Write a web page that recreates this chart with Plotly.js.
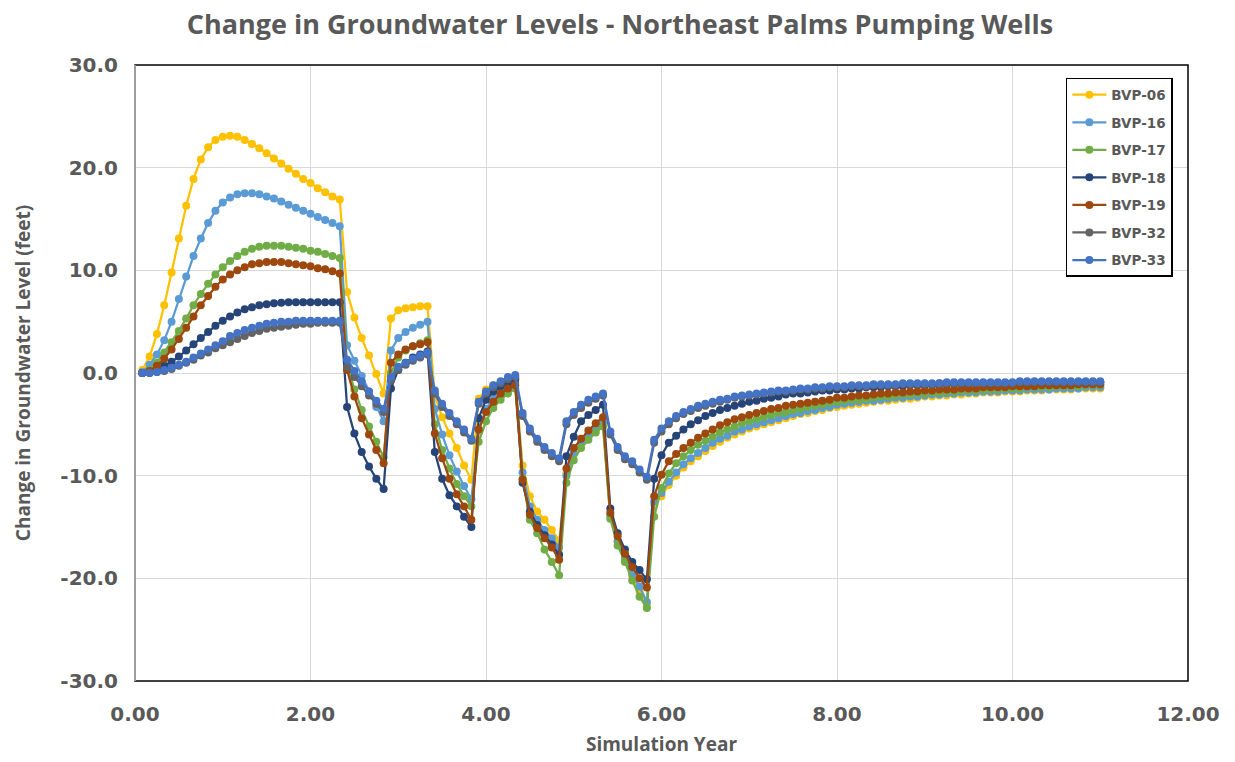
<!DOCTYPE html>
<html>
<head>
<meta charset="utf-8">
<script src="https://cdn.plot.ly/plotly-3.0.1.min.js"></script>
<style>html,body{margin:0;padding:0;background:#fff;}#chart{width:1235px;height:762px;}</style>
</head>
<body>
<div id="chart"></div>
<script>
// Simulation time axis: monthly steps, 1/12 year to 11.0 years
const nSteps = 132;
const simYear = [];
for (let k = 1; k <= nSteps; k++) simYear.push(+(k / 12).toFixed(4));

const seriesNames = ["BVP-06", "BVP-16", "BVP-17", "BVP-18", "BVP-19", "BVP-32", "BVP-33"];
const seriesColors = ["#FFC000", "#5B9BD5", "#70AD47", "#264478", "#9E480E", "#636363", "#4472C4"];

const xTickVals = [0, 2, 4, 6, 8, 10, 12];
const xTickText = ["0.00", "2.00", "4.00", "6.00", "8.00", "10.00", "12.00"];
const yTickVals = [-30, -20, -10, 0, 10, 20, 30];
const yTickText = ["-30.0", "-20.0", "-10.0", "0.0", "10.0", "20.0", "30.0"];

const bvp06 = [
  0.3,1.6,3.8,6.6,9.8,13.1,16.3,18.9,20.8,22.0,22.7,23.0,23.1,23.0,22.7,22.3,21.9,21.4,20.9,20.4,19.9,19.4,18.9,18.5,18.0,17.6,17.2,16.9,
  7.9,5.4,3.4,1.7,-0.1,-2.0,
  5.3,6.1,6.3,6.4,6.5,6.5,
  -2.2,-4.3,-5.9,-7.3,-9.0,-10.4,
  -2.5,-1.6,-1.2,-0.9,-0.7,-0.5,
  -9.0,-12.0,-13.5,-14.3,-15.3,-16.3,
  -9.8,-7.8,-6.8,-6.1,-5.5,-5.0,
  -13.8,-16.4,-18.2,-19.8,-21.3,-22.6,
  -12.8,-12.0,-10.9,-10.0,-9.2,-8.6,-8.1,-7.6,-7.1,-6.7,-6.3,-6.0,-5.7,-5.4,-5.2,-5.0,-4.8,-4.6,-4.4,-4.2,
  -4.0,-3.9,-3.7,-3.6,-3.4,-3.3,-3.2,-3.1,-3.0,-2.9,-2.8,-2.7,-2.7,-2.6,-2.5,-2.5,-2.4,-2.3,-2.3,-2.2,
  -2.2,-2.1,-2.1,-2.0,-2.0,-1.9,-1.9,-1.9,-1.8,-1.8,-1.8,-1.7,-1.7,-1.7,-1.6,-1.6,-1.6,-1.6,-1.5,-1.5,
  -1.5,-1.5
];
const bvp16 = [
  0.1,0.8,1.8,3.2,5.0,7.2,9.4,11.4,13.1,14.6,15.8,16.6,17.1,17.4,17.5,17.5,17.4,17.2,17.0,16.7,16.4,16.1,15.8,15.5,15.2,14.9,14.6,14.3,
  2.7,1.2,-0.3,-1.8,-3.3,-4.7,
  2.2,3.4,4.0,4.4,4.7,5.0,
  -3.5,-6.0,-8.0,-9.6,-11.0,-12.3,
  -5.5,-3.5,-2.4,-1.7,-1.2,-0.9,
  -9.7,-13.0,-14.3,-15.3,-16.1,-17.0,
  -10.0,-7.8,-6.8,-6.0,-5.4,-4.8,
  -13.9,-16.4,-18.0,-19.6,-20.8,-22.3,
  -12.5,-11.7,-10.6,-9.7,-8.9,-8.3,-7.8,-7.3,-6.8,-6.4,-6.1,-5.7,-5.5,-5.2,-5.0,-4.8,-4.6,-4.4,-4.2,-4.0,
  -3.9,-3.7,-3.6,-3.4,-3.3,-3.1,-3.0,-2.9,-2.8,-2.7,-2.7,-2.6,-2.5,-2.4,-2.4,-2.3,-2.3,-2.2,-2.1,-2.1,
  -2.0,-2.0,-1.9,-1.9,-1.9,-1.8,-1.8,-1.8,-1.7,-1.7,-1.7,-1.6,-1.6,-1.6,-1.6,-1.5,-1.5,-1.5,-1.5,-1.4,
  -1.4,-1.4
];
const bvp17 = [
  0.0,0.3,1.0,2.0,3.0,4.1,5.3,6.6,7.7,8.7,9.6,10.3,10.9,11.4,11.8,12.1,12.3,12.4,12.4,12.4,12.3,12.2,12.1,11.9,11.8,11.6,11.4,11.2,
  0.8,-1.6,-3.6,-5.2,-6.7,-8.2,
  0.0,1.5,2.2,2.6,2.9,3.2,
  -5.0,-7.5,-9.3,-10.8,-12.0,-13.0,
  -6.7,-4.7,-3.4,-2.6,-2.0,-1.5,
  -10.3,-14.3,-15.6,-17.2,-18.4,-19.7,
  -10.7,-8.5,-7.3,-6.5,-5.8,-5.2,
  -14.2,-16.8,-18.4,-20.2,-21.8,-22.9,
  -14.0,-11.2,-9.8,-8.8,-8.1,-7.5,-7.0,-6.6,-6.2,-5.8,-5.5,-5.2,-4.9,-4.7,-4.5,-4.3,-4.1,-3.9,-3.8,-3.6,
  -3.5,-3.3,-3.2,-3.1,-2.9,-2.8,-2.7,-2.6,-2.6,-2.5,-2.4,-2.3,-2.3,-2.2,-2.1,-2.1,-2.0,-2.0,-1.9,-1.9,
  -1.8,-1.8,-1.7,-1.7,-1.7,-1.6,-1.6,-1.6,-1.5,-1.5,-1.5,-1.4,-1.4,-1.4,-1.4,-1.3,-1.3,-1.3,-1.3,-1.2,
  -1.2,-1.2
];
const bvp18 = [
  0.0,0.1,0.3,0.7,1.1,1.6,2.2,2.8,3.4,4.0,4.6,5.1,5.5,5.9,6.2,6.4,6.6,6.7,6.8,6.85,6.9,6.9,6.9,6.9,6.9,6.9,6.9,6.9,
  -3.3,-5.9,-7.7,-9.1,-10.3,-11.3,
  -1.5,0.3,1.0,1.5,1.8,2.1,
  -7.7,-10.3,-11.9,-13.0,-14.0,-15.0,
  -4.4,-2.6,-1.8,-1.3,-1.0,-0.6,
  -10.7,-13.5,-14.8,-15.8,-16.7,-17.7,
  -8.1,-6.2,-4.7,-4.1,-3.6,-3.1,
  -13.2,-15.6,-17.2,-18.4,-19.2,-20.1,
  -10.3,-8.0,-6.8,-6.1,-5.5,-5.0,-4.6,-4.2,-3.9,-3.6,-3.4,-3.2,-3.0,-2.8,-2.7,-2.5,-2.4,-2.3,-2.1,-2.0,
  -2.0,-1.9,-1.8,-1.7,-1.7,-1.6,-1.6,-1.5,-1.5,-1.4,-1.4,-1.4,-1.3,-1.3,-1.3,-1.2,-1.2,-1.2,-1.2,-1.1,
  -1.1,-1.1,-1.1,-1.1,-1.0,-1.0,-1.0,-1.0,-1.0,-1.0,-1.0,-0.9,-0.9,-0.9,-0.9,-0.9,-0.9,-0.9,-0.9,-0.9,
  -0.9,-0.9
];
const bvp19 = [
  0.0,0.2,0.7,1.4,2.3,3.3,4.4,5.5,6.6,7.5,8.4,9.1,9.6,10.0,10.3,10.6,10.7,10.8,10.8,10.8,10.7,10.6,10.5,10.4,10.2,10.1,9.9,9.7,
  0.3,-2.3,-4.4,-6.0,-7.5,-8.8,
  1.0,1.8,2.3,2.6,2.8,3.0,
  -5.9,-8.3,-10.3,-11.8,-13.0,-14.3,
  -5.5,-3.8,-2.8,-2.0,-1.5,-1.2,
  -10.4,-13.8,-15.1,-16.1,-17.0,-18.2,
  -9.3,-7.3,-6.4,-5.6,-4.9,-4.3,
  -13.6,-15.9,-17.6,-18.9,-20.0,-20.9,
  -12.0,-9.9,-8.6,-7.9,-7.3,-6.8,-6.3,-5.9,-5.5,-5.1,-4.8,-4.5,-4.3,-4.1,-3.9,-3.7,-3.5,-3.4,-3.2,-3.1,
  -3.0,-2.9,-2.8,-2.7,-2.6,-2.4,-2.4,-2.3,-2.2,-2.2,-2.1,-2.0,-2.0,-1.9,-1.9,-1.8,-1.8,-1.7,-1.7,-1.6,
  -1.6,-1.6,-1.5,-1.5,-1.5,-1.4,-1.4,-1.4,-1.4,-1.3,-1.3,-1.3,-1.3,-1.2,-1.2,-1.2,-1.2,-1.2,-1.1,-1.1,
  -1.1,-1.1
];
const bvp32 = [
  0.0,0.0,0.1,0.2,0.4,0.7,1.0,1.3,1.7,2.0,2.4,2.7,3.0,3.3,3.6,3.9,4.1,4.3,4.4,4.5,4.6,4.7,4.8,4.8,4.9,4.9,4.9,4.9,
  0.6,-0.4,-1.3,-2.2,-3.0,-3.8,
  -0.7,0.3,0.8,1.2,1.5,1.8,
  -2.0,-3.3,-4.2,-5.0,-5.8,-6.6,
  -3.0,-2.0,-1.4,-1.0,-0.6,-0.4,
  -4.2,-5.7,-6.7,-7.5,-8.1,-8.6,
  -5.0,-4.1,-3.4,-2.9,-2.5,-2.2,
  -6.0,-7.5,-8.4,-8.9,-9.7,-10.4,
  -6.8,-5.7,-5.0,-4.4,-4.0,-3.7,-3.4,-3.2,-3.0,-2.8,-2.6,-2.4,-2.3,-2.2,-2.1,-2.0,-1.9,-1.8,-1.8,-1.7,
  -1.6,-1.6,-1.5,-1.5,-1.4,-1.4,-1.4,-1.3,-1.3,-1.3,-1.2,-1.2,-1.2,-1.2,-1.1,-1.1,-1.1,-1.1,-1.1,-1.0,
  -1.0,-1.0,-1.0,-1.0,-1.0,-1.0,-1.0,-1.0,-1.0,-1.0,-0.9,-0.9,-0.9,-0.9,-0.9,-0.9,-0.9,-0.9,-0.9,-0.9,
  -0.9,-0.9
];
const bvp33 = [
  0.0,0.0,0.1,0.3,0.5,0.8,1.1,1.5,1.9,2.3,2.7,3.1,3.6,3.9,4.2,4.4,4.6,4.8,4.9,5.0,5.0,5.1,5.1,5.1,5.1,5.1,5.1,5.1,
  1.3,0.2,-0.8,-1.8,-2.7,-3.5,
  -0.4,0.6,1.0,1.4,1.7,2.0,
  -1.7,-3.0,-3.9,-4.7,-5.5,-6.4,
  -2.8,-1.8,-1.2,-0.8,-0.4,-0.2,
  -3.9,-5.4,-6.4,-7.2,-7.8,-8.3,
  -4.7,-3.8,-3.1,-2.6,-2.3,-2.0,
  -5.7,-7.2,-8.1,-8.6,-9.4,-10.1,
  -6.5,-5.4,-4.7,-4.2,-3.8,-3.5,-3.2,-3.0,-2.8,-2.6,-2.5,-2.3,-2.2,-2.1,-2.0,-1.9,-1.8,-1.7,-1.7,-1.6,
  -1.5,-1.5,-1.4,-1.4,-1.3,-1.3,-1.3,-1.2,-1.2,-1.2,-1.1,-1.1,-1.1,-1.1,-1.0,-1.0,-1.0,-1.0,-1.0,-1.0,
  -0.9,-0.9,-0.9,-0.9,-0.9,-0.9,-0.9,-0.9,-0.9,-0.9,-0.8,-0.8,-0.8,-0.8,-0.8,-0.8,-0.8,-0.8,-0.8,-0.8,
  -0.8,-0.8
];

const seriesValues = [bvp06, bvp16, bvp17, bvp18, bvp19, bvp32, bvp33];

const traces = seriesValues.map((vals, i) => ({
  type: "scatter",
  mode: "lines+markers",
  name: seriesNames[i],
  legendgroup: seriesNames[i],
  x: simYear.slice(0, vals.length),
  y: vals,
  line: { color: seriesColors[i], width: 2.25 },
  marker: { color: seriesColors[i], size: 8 }
}));

const textGray = "#595959";
const layout = {
  width: 1235,
  height: 762,
  paper_bgcolor: "#ffffff",
  plot_bgcolor: "#ffffff",
  margin: { l: 135, r: 47, t: 65, b: 81 },
  title: {
    text: "Change in Groundwater Levels - Northeast Palms Pumping Wells",
    font: { family: "Open Sans", size: 27, color: textGray, weight: 700 },
    x: 0.502, xanchor: "center", y: 0.968, yanchor: "middle"
  },
  xaxis: {
    range: [0, 12],
    tickmode: "array",
    tickvals: xTickVals,
    ticktext: xTickText,
    showgrid: true,
    gridcolor: "#d9d9d9",
    gridwidth: 1,
    zeroline: false,
    showline: false,
    ticks: "",
    ticklabelstandoff: 19,
    tickfont: { family: "DejaVu Sans", size: 20, color: textGray, weight: 700 },
    title: { text: "Simulation Year", font: { family: "Open Sans", size: 19, color: textGray, weight: 700 }, standoff: 12 }
  },
  yaxis: {
    range: [-30, 30],
    tickmode: "array",
    tickvals: yTickVals,
    ticktext: yTickText,
    showgrid: true,
    gridcolor: "#d9d9d9",
    gridwidth: 1,
    zeroline: true,
    zerolinecolor: "#d9d9d9",
    zerolinewidth: 1,
    showline: false,
    ticks: "",
    ticklabelstandoff: 16,
    tickfont: { family: "DejaVu Sans", size: 20, color: textGray, weight: 700 },
    title: { text: "Change in Groundwater Level (feet)", font: { family: "Open Sans", size: 19, color: textGray, weight: 700 }, standoff: 24 }
  },
  legend: {
    x: 0.884, xanchor: "left",
    y: 0.979, yanchor: "top",
    bgcolor: "#ffffff",
    bordercolor: "#000000",
    borderwidth: 1.5,
    font: { family: "DejaVu Sans", size: 13.5, color: textGray, weight: 700 },
    tracegroupgap: 7,
    itemwidth: 34
  },
  shapes: [
    { type: "rect", xref: "paper", yref: "paper", x0: 0, x1: 1, y0: 0, y1: 1, line: { color: "#000000", width: 1.5 }, layer: "above" },
    { type: "line", xref: "paper", yref: "paper", x0: 0, x1: 0, y0: 0, y1: 1, line: { color: "#bfbfbf", width: 1.5 }, layer: "above" }
  ],
  showlegend: true
};

Plotly.newPlot("chart", traces, layout, { displayModeBar: false, staticPlot: true });
</script>
</body>
</html>
